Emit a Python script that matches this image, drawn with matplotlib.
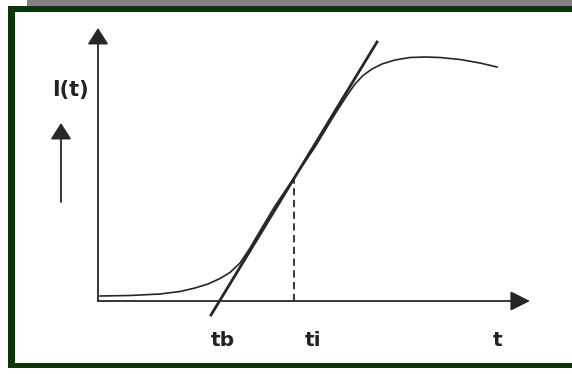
import matplotlib
matplotlib.use("Agg")
import matplotlib.pyplot as plt
from matplotlib.patches import Rectangle

# ---- data (t, I) in arbitrary units, origin at axis corner ----
curve_t = [2, 32, 62, 82, 97, 110, 122, 132, 142, 152, 162, 177, 196, 217, 237,
           248, 257, 265, 274, 284, 297, 312, 327, 342, 362, 382, 399]
curve_I = [5, 5.5, 7, 9.5, 13, 17, 22.5, 28.5, 38, 53, 70, 95, 123, 154, 187,
           204, 217, 225.5, 232, 237, 241, 243.5, 244, 243.5, 241.5, 238, 234]
tangent_t = [113, 279]
tangent_I = [-14, 259]
t_i = 196
I_ti = 123
x_axis_end = 432
y_axis_end = 273
label_texts = ["tb", "ti", "t"]
label_t = [125, 215, 400]
label_I = -39
ylabel_text = "I(t)"

W, H = 572, 374
fig = plt.figure(figsize=(W / 100, H / 100), dpi=100)
fig.patch.set_facecolor("white")

def frect(x0, y0, x1, y1, color):
    fig.add_artist(Rectangle((x0 / W, 1 - y1 / H), (x1 - x0) / W, (y1 - y0) / H,
                             transform=fig.transFigure, facecolor=color,
                             edgecolor="none", zorder=0))

# decorations: grey strip and dark green frame
frect(27, 0, 572, 5.5, "#828282")
frect(8, 6, 572, 11.5, "#0b3608")
frect(8, 6, 15, 368, "#0b3608")
frect(8, 363, 572, 368, "#0b3608")

ax = fig.add_axes([0, 0, 1, 1])
ax.set_xlim(-98, 474)
ax.set_ylim(-73, 301)
ax.axis("off")
ax.patch.set_alpha(0)

ink = "#262626"

# axes with arrows
ax.annotate("", xy=(0, y_axis_end), xytext=(0, 0),
            arrowprops=dict(arrowstyle="-|>,head_length=0.5,head_width=0.32",
                            mutation_scale=20, lw=1.3, color=ink,
                            shrinkA=0, shrinkB=0))
ax.annotate("", xy=(x_axis_end, 0), xytext=(0, 0),
            arrowprops=dict(arrowstyle="-|>,head_length=0.6,head_width=0.3",
                            mutation_scale=20, lw=1.3, color=ink,
                            shrinkA=0, shrinkB=0))
# small upward arrow beside I(t)
ax.annotate("", xy=(-37, 178), xytext=(-37, 99),
            arrowprops=dict(arrowstyle="-|>,head_length=0.5,head_width=0.32",
                            mutation_scale=20, lw=1.3, color=ink,
                            shrinkA=0, shrinkB=0))

# curve, tangent, dashed line
ax.plot(curve_t, curve_I, color=ink, lw=1.2, solid_joinstyle="round")
ax.plot(tangent_t, tangent_I, color=ink, lw=2.0)
ax.plot([t_i, t_i], [0, I_ti], color=ink, lw=1.3, ls=(0, (4, 2.5)))

# labels
for txt, tx in zip(label_texts, label_t):
    ax.text(tx, label_I, txt, ha="center", va="center", fontsize=14.5,
            fontweight="bold", color="#222222", family="DejaVu Sans")
ax.text(-28, 211, ylabel_text, ha="center", va="center", fontsize=15,
        fontweight="bold", color="#222222", family="DejaVu Sans")

fig.savefig("out.png", dpi=100, facecolor="white")
